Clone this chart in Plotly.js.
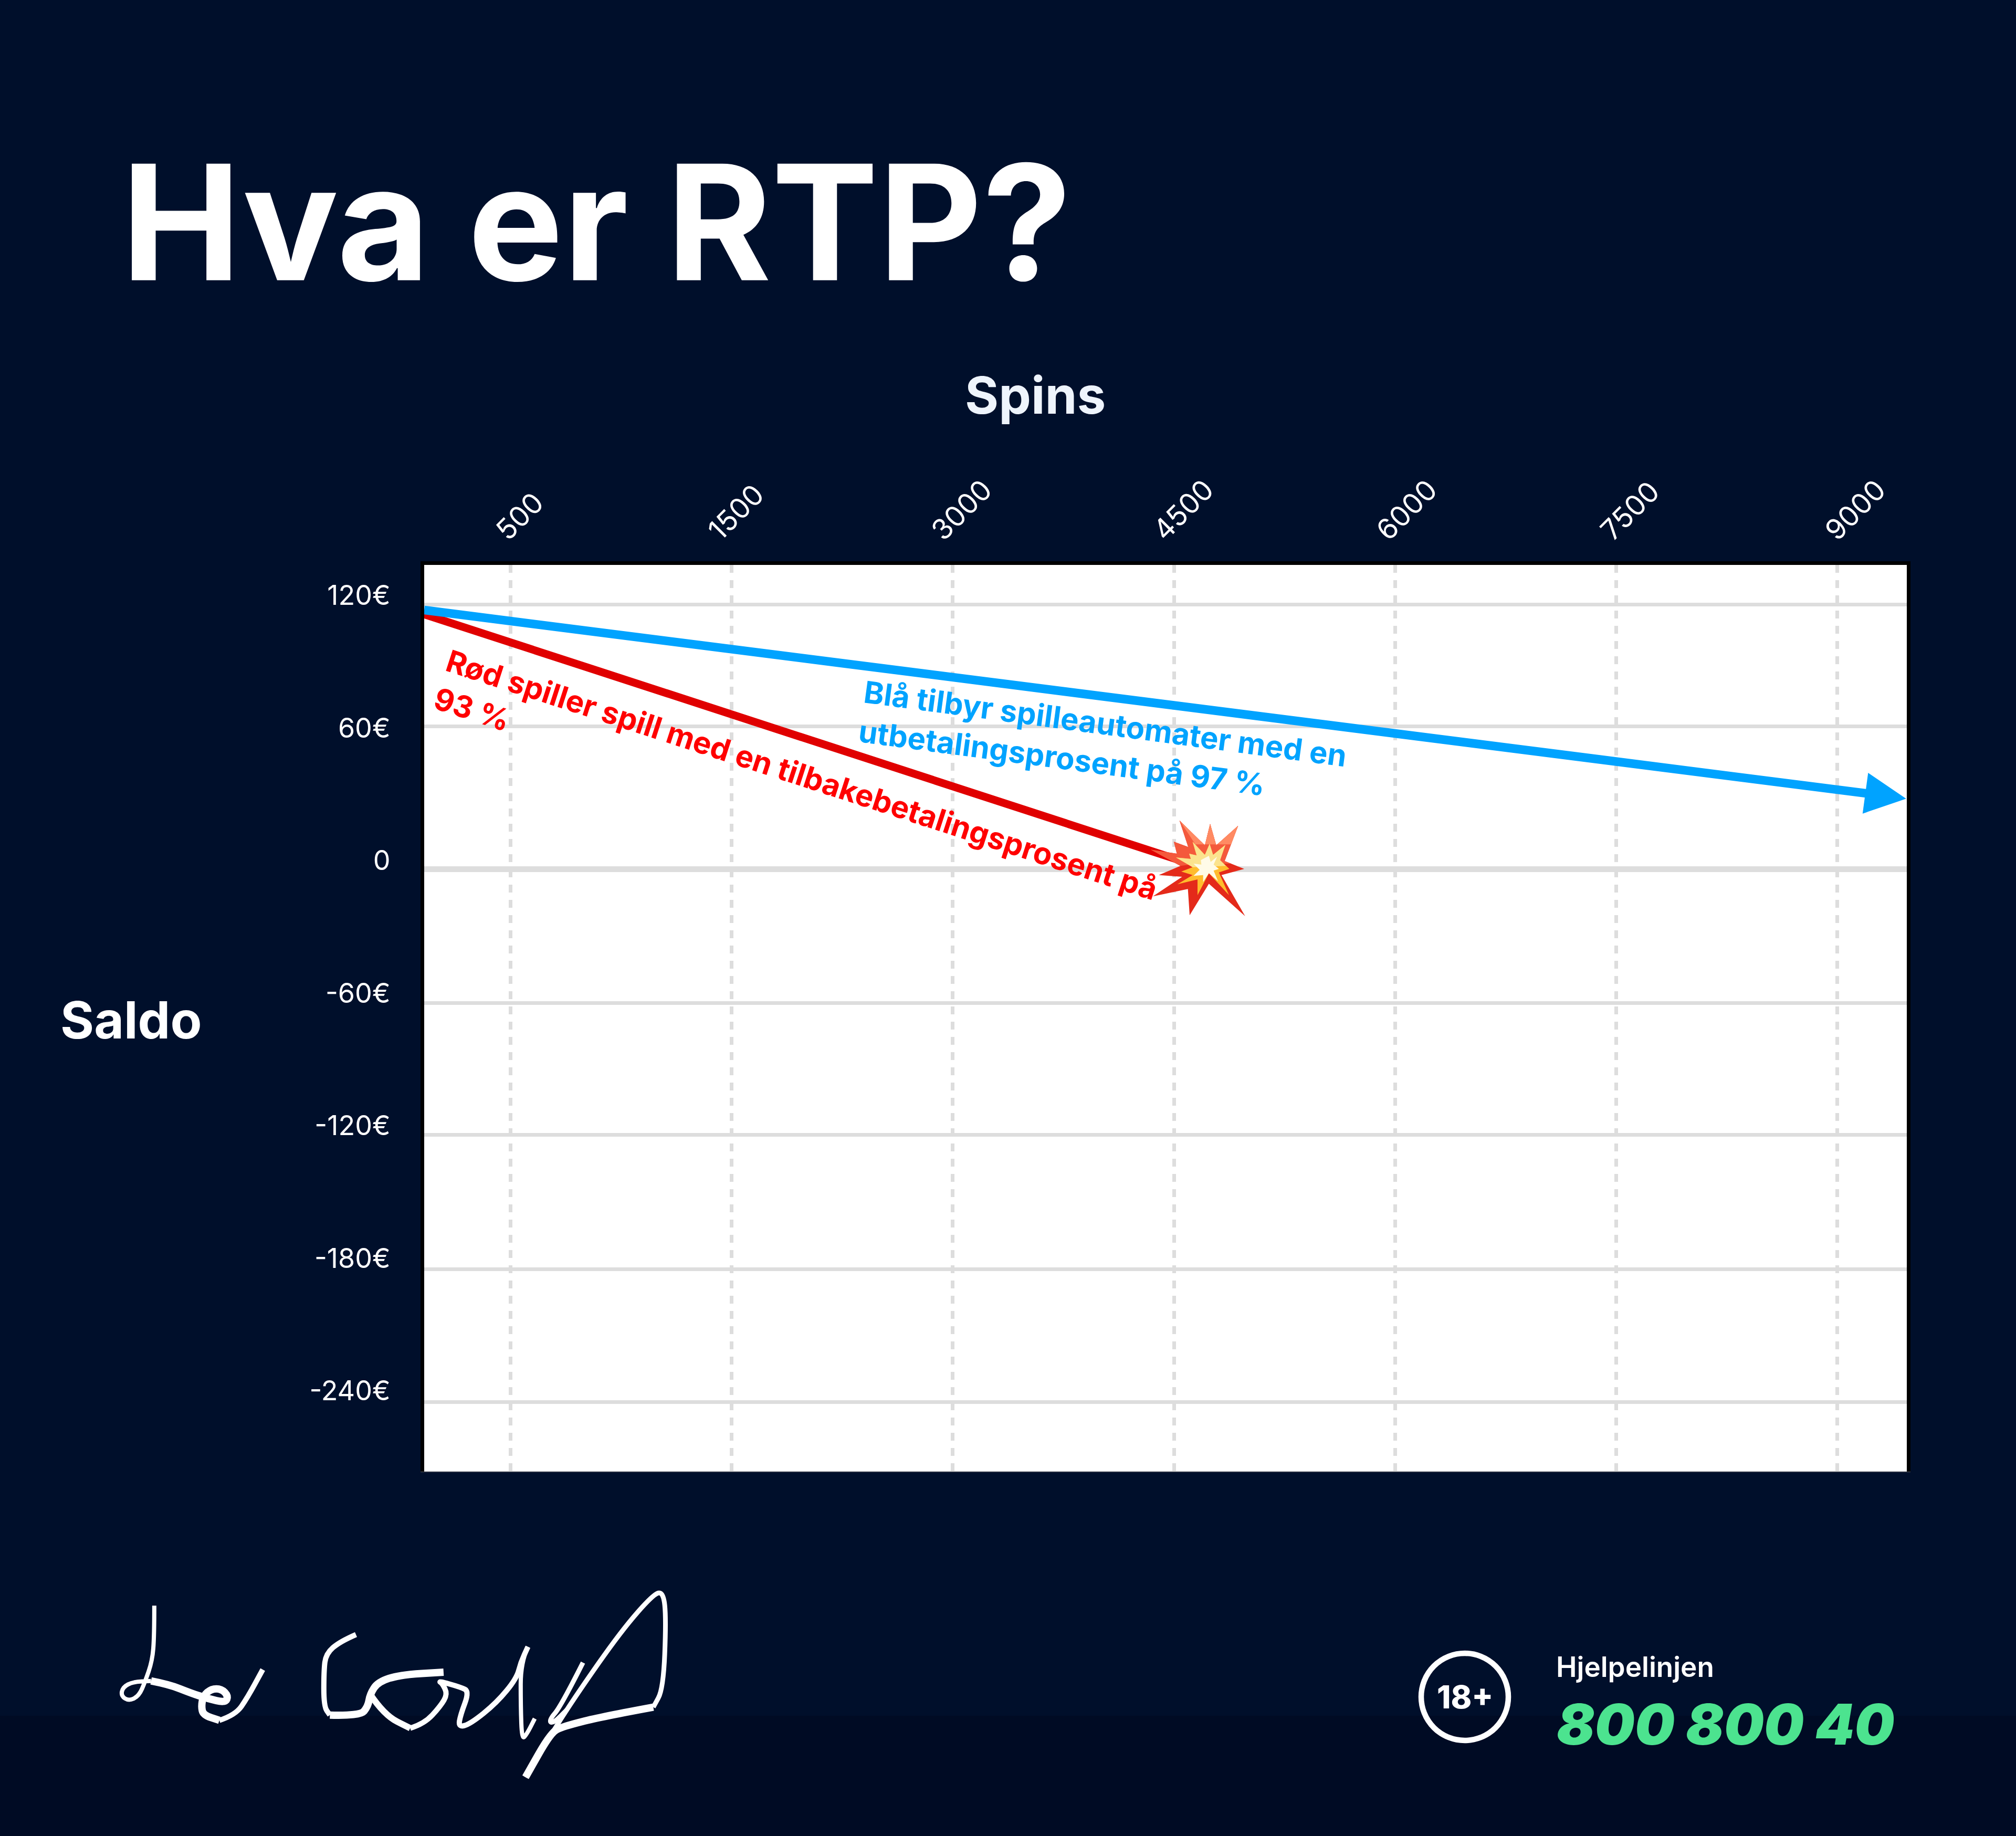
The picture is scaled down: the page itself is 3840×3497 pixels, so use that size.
<!DOCTYPE html>
<html><head><meta charset="utf-8">
<script src="https://cdn.plot.ly/plotly-3.0.1.min.js"></script>
<style>html,body{margin:0;padding:0;background:#000f2b}#c{width:3840px;height:3497px}</style></head>
<body><div id="c"></div>
<script>
// ---- data ----
const spinLabels = ["500","1500","3000","4500","6000","7500","9000"];
const spinPositions = [0,1,2,3,4,5,6];
const spinLabelPositions = [-0.057,0.903,1.913,2.915,3.926,4.94,5.955];
const saldoLabels = ["120€","60€","0","-60€","-120€","-180€","-240€"];
const saldoLabelValues = [120,60,0,-60,-120,-180,-240];
const saldoGridValues = [119.5,64.5,0,-60.5,-120.2,-180.7,-240.7];
const redX = [-0.391,3.036];
const redY = [115.0,3.6];
const blueX = [-0.391,6.15];
const blueY = [116.9,33.9];
const blueTip = [6.312,31.7];
const redText = "Rød spiller spill med en tilbakebetalingsprosent på<br>93 %";
const blueText = "Blå tilbyr spilleautomater med en<br>utbetalingsprosent på 97 %";

// ---- page helpers ----
const W=3840,H=3497;
const px=x=>x/W, py=y=>1-y/H;
const FONT="Inter, sans-serif";
function polyPath(pts){return pts.map((p,i)=>(i?'L':'M')+px(p[0])+','+py(p[1])).join(' ')+' Z';}
function smoothPath(pts){
  let d='M'+px(pts[0][0])+','+py(pts[0][1]);
  for(let i=1;i<pts.length-1;i++){
    const mx=(pts[i][0]+pts[i+1][0])/2,my=(pts[i][1]+pts[i+1][1])/2;
    d+=' Q'+px(pts[i][0])+','+py(pts[i][1])+' '+px(mx)+','+py(my);
  }
  const l=pts[pts.length-1];
  return d+' L'+px(l[0])+','+py(l[1]);
}
const burstMap=a=>a.map(p=>[2180+p[0]/3,1550+p[1]/3]);
const burstLayers=[
 ["#E42A1A",[[200,38],[345,180],[375,58],[410,180],[535,68],[458,270],[570,315],[440,350],[575,585],[368,400],[258,580],[248,430],[48,472],[215,360],[82,350],[205,298],[35,205],[185,228],[168,160],[250,190]]],
 ["#F4593C",[[200,38],[345,180],[375,58],[410,180],[535,68],[458,270],[495,285],[300,285],[205,298],[35,205],[185,228],[168,160],[250,190]]],
 ["#FF8A62",[[200,38],[345,180],[375,58],[410,180],[535,68],[495,175],[290,175],[255,120]]],
 ["#FFBC2D",[[275,160],[345,235],[372,172],[392,235],[462,178],[432,265],[485,315],[425,335],[483,465],[368,340],[303,465],[303,375],[188,403],[275,350],[210,330],[275,305],[180,250],[265,258],[255,228],[298,238]]],
 ["#FBE38E",[[275,160],[345,235],[372,172],[392,235],[462,178],[432,265],[465,298],[275,305],[180,250],[265,258],[255,228],[298,238]]],
 ["#FFFBE8",[[368,240],[378,275],[415,245],[395,290],[425,315],[395,325],[420,385],[368,340],[335,390],[335,350],[280,355],[315,320],[280,285],[325,290],[322,265]]]
];
const sigMap=a=>a.map(p=>[150+p[0]/1.3067,2950+p[1]/3]);
const sigStrokes=[
 [8,[[188,325],[188,500],[183,640],[165,760],[150,840],[125,870],[105,840],[110,790],[135,760],[180,755]]],
 [14,[[180,755],[225,775],[280,825],[320,855],[365,880],[372,840],[355,800],[330,800],[310,840],[305,900],[310,950],[350,980]]],
 [10,[[350,980],[390,950],[420,850],[458,690]]],
 [10,[[690,490],[650,530],[615,600],[610,700],[610,900],[625,950]]],
 [14,[[625,950],[700,955],[720,900],[725,830],[745,760],[800,720],[908,705]]],
 [12,[[725,830],[760,950],[825,1025]]],
 [10,[[825,1025],[860,1000],[900,900],[918,830],[905,770],[895,755],[950,790],[972,815],[950,950],[945,1020],[975,1000],[1040,880],[1090,740],[1100,650],[1118,560]]],
 [8,[[1118,560],[1100,650],[1100,900],[1103,1090],[1115,1060],[1135,970]]],
 [9,[[1255,650],[1200,900],[1170,980],[1180,1000],[1215,920]]],
 [9,[[1112,1305],[1170,1080],[1240,830],[1350,470],[1430,260],[1455,245],[1462,400],[1455,800],[1430,905]]],
 [14,[[1430,905],[1300,960],[1205,1015],[1175,1050],[1112,1305]]]
];

// ---- layout pieces ----
const shapes=[
 {type:'rect',xref:'paper',yref:'paper',x0:0,x1:1,y0:py(3497),y1:py(3268),fillcolor:'#000b24',line:{width:0},layer:'below'},
 {type:'line',xref:'paper',yref:'paper',x0:px(801),x1:px(3639),y0:py(2803.5),y1:py(2803.5),line:{color:'#3a3f4a',width:1.5}},
 {type:'circle',xref:'paper',yref:'paper',x0:px(2707),x1:px(2873),y0:py(3315),y1:py(3149),line:{color:'#ffffff',width:10.5},fillcolor:'rgba(0,0,0,0)'}
];
burstLayers.forEach(l=>shapes.push({type:'path',xref:'paper',yref:'paper',path:polyPath(burstMap(l[1])),fillcolor:l[0],line:{width:0}}));
sigStrokes.forEach(s=>shapes.push({type:'path',xref:'paper',yref:'paper',path:smoothPath(sigMap(s[1])),line:{color:'#ffffff',width:s[0]},fillcolor:'rgba(0,0,0,0)'}));

function txt(t,x,y,size,weight,color,extra){
  return Object.assign({xref:'paper',yref:'paper',x:px(x),y:py(y),text:t,showarrow:false,xanchor:'left',yanchor:'middle',
    font:{family:FONT,size:size,weight:weight,color:color}},extra||{});
}
const annotations=[
 txt("Spins",1972,752,98,700,"#EEF4FC",{xanchor:'center'}),
 txt("Saldo",113,1942,98,700,"#ffffff"),
 txt(redText,1516,1511,58,700,"#FF0000",{xanchor:'center',align:'left',textangle:18}),
 txt(blueText,2100,1415,58,700,"#00A3FF",{xanchor:'center',align:'left',textangle:7.6}),
 txt("Hjelpelinjen",2962,3175,53,600,"#ffffff"),
 txt("<i>800 800 40</i>",2963,3284,107,900,"#4CE38F"),
 txt("18+",2790,3232,60,800,"#ffffff",{xanchor:'center'}),
 {xref:'x',yref:'y',axref:'x',ayref:'y',x:blueTip[0],y:blueTip[1],ax:blueX[1],ay:blueY[1],
  showarrow:true,arrowhead:2,arrowsize:0.95,arrowwidth:16.5,arrowcolor:'#00A3FF',text:'',standoff:0,startstandoff:0}
];

const traces=[
 {x:redX,y:redY,mode:'lines',line:{color:'#E00000',width:15},hoverinfo:'skip',showlegend:false},
 {x:blueX,y:blueY,mode:'lines',line:{color:'#00A3FF',width:16.5},hoverinfo:'skip',showlegend:false},
 {x:[null],y:[null],xaxis:'x2',yaxis:'y2',mode:'lines',hoverinfo:'skip',showlegend:false}
];

const xDomain=[808/W,3632/W], yDomain=[1-2803/H,1-1076/H];
const layout={
 width:W,height:H,margin:{l:0,r:0,t:0,b:0,pad:0},
 paper_bgcolor:'#000f2b',plot_bgcolor:'#ffffff',showlegend:false,
 title:{text:"Hva er RTP?",xref:'paper',yref:'paper',x:px(231),xanchor:'left',y:py(427),yanchor:'middle',
   font:{family:FONT,size:305,weight:700,color:'#ffffff'}},
 xaxis:{domain:xDomain,range:[-0.391,6.315],side:'top',tickmode:'array',tickvals:spinPositions,ticktext:spinLabels,showticklabels:false,
   showgrid:true,gridcolor:'#DDDDDD',gridwidth:7,griddash:'15px,14px',zeroline:false,showline:true,linecolor:'#000000',linewidth:7,ticks:'',anchor:'y',layer:'below traces'},
 yaxis:{domain:yDomain,range:[-272.2,137.3],tickmode:'array',tickvals:saldoGridValues,showticklabels:false,
   showgrid:true,gridcolor:'#DDDDDD',gridwidth:7,zeroline:true,zerolinecolor:'#DDDDDD',zerolinewidth:11,showline:true,mirror:true,linecolor:'#000000',linewidth:7,ticks:'',anchor:'x'},
 xaxis2:{overlaying:'x',anchor:'y2',side:'top',range:[-0.391,6.315],tickmode:'array',tickvals:spinLabelPositions,ticktext:spinLabels,tickangle:-45,
   tickfont:{family:FONT,size:54,weight:400,color:'#ffffff'},
   showgrid:false,zeroline:false,showline:false,ticks:'outside',ticklen:13,tickcolor:'rgba(0,0,0,0)'},
 yaxis2:{overlaying:'y',anchor:'x2',side:'left',range:[-276.6,133.8],tickmode:'array',tickvals:saldoLabelValues,ticktext:saldoLabels,
   tickfont:{family:FONT,size:52,weight:400,color:'#ffffff'},
   showgrid:false,zeroline:false,showline:false,ticks:'outside',ticklen:53,tickcolor:'rgba(0,0,0,0)'},
 shapes:shapes,annotations:annotations
};
Plotly.newPlot('c',traces,layout,{displayModeBar:false,staticPlot:true});
</script></body></html>
